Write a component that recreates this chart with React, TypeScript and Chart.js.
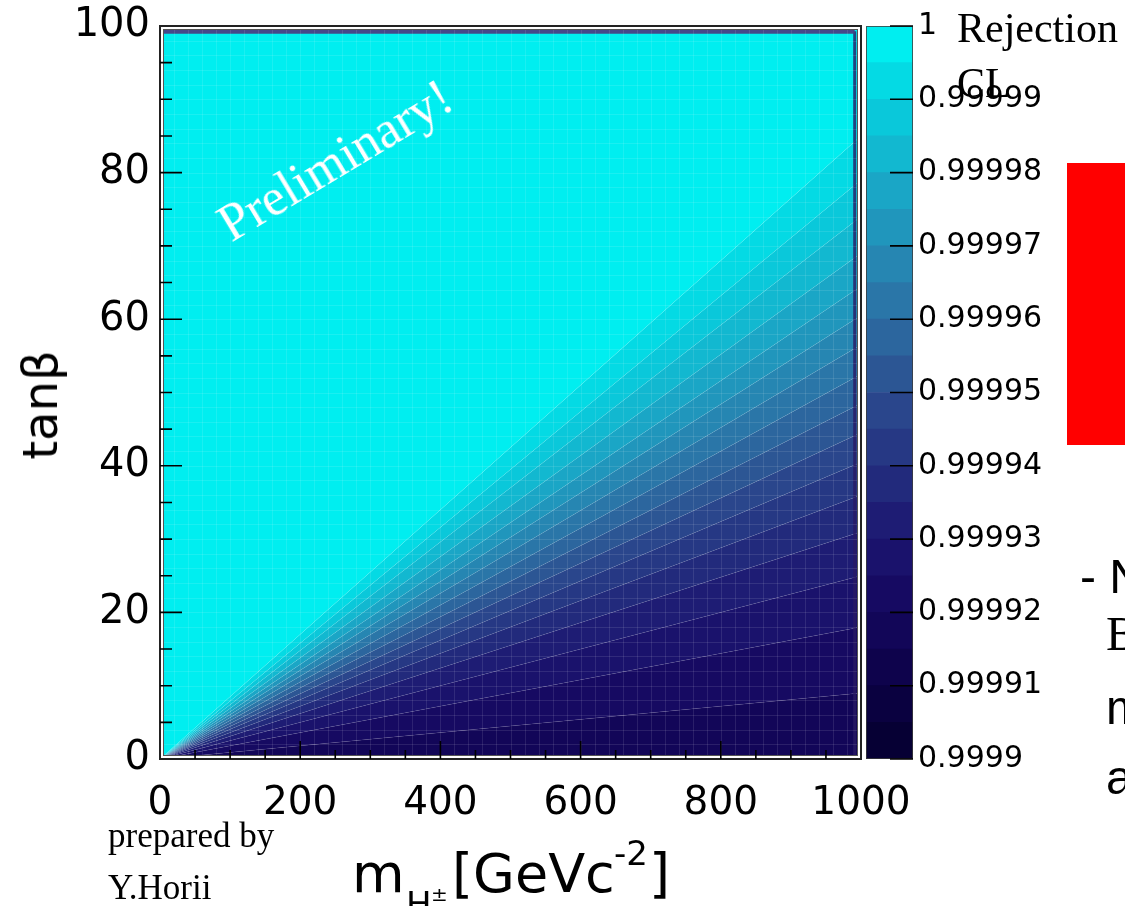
import React, { useEffect, useRef } from "react";
import { Chart, registerables } from "chart.js";

Chart.register(...registerables);

// ---------------- data ----------------
const massLimits = [0, 1000];
const tanBetaLimits = [0, 100];
const massTickStep = 200;
const massMinorStep = 50;
const tanBetaTickStep = 20;
const tanBetaMinorStep = 5;
const massBinWidth = 20;
const tanBetaBinWidth = 2;

// contour lines start at the origin; tanβ each one reaches at m_H± = 1000 (top → bottom)
const contourEndTanBeta = [85, 79, 74, 69, 64.5, 60.5, 56.5, 52.5, 48.5, 44.5, 40.5, 36, 31, 25, 18, 9];
// palette level of each region between contours (top → bottom)
const regionLevels = [19, 18, 17, 16, 15, 14, 13, 12, 11, 10, 9, 8, 7, 6, 5, 4, 3];

// palette from 0.9999 (index 0) to 1 (index 19)
const paletteColors = [
  "rgb(6,0,52)", "rgb(10,1,64)", "rgb(14,3,76)", "rgb(18,6,88)", "rgb(22,10,98)",
  "rgb(26,18,108)", "rgb(30,28,116)", "rgb(34,42,124)", "rgb(38,56,132)", "rgb(42,70,140)",
  "rgb(44,86,148)", "rgb(44,102,158)", "rgb(42,118,168)", "rgb(38,134,178)", "rgb(32,150,188)",
  "rgb(26,166,198)", "rgb(18,184,208)", "rgb(10,200,218)", "rgb(4,218,228)", "rgb(0,238,240)",
];

// colour bar, in units of (CL − 0.9999) × 10^5
const colorbarEdges = [0, 0.5, 1, 1.5, 2, 2.5, 3, 3.5, 4, 4.5, 5, 5.5, 6, 6.5, 7, 7.5, 8, 8.5, 9, 9.5, 10];
const colorbarTickValues = [0, 1, 2, 3, 4, 5, 6, 7, 8, 9, 10];
const colorbarTickLabels = [
  "0.9999", "0.99991", "0.99992", "0.99993", "0.99994", "0.99995",
  "0.99996", "0.99997", "0.99998", "0.99999", "1",
];

// edge artefacts of the scan
const topEdgeTanBeta = 99.3;
const rightEdgeMass = 991;

// ---------------- plugins ----------------
const mainDecor = {
  id: "mainDecor",
  afterDatasetsDraw(chart: any) {
    const { ctx, chartArea: a, scales } = chart;
    const x = scales.x;
    const y = scales.y;
    ctx.save();
    // faint histogram bin grid
    ctx.strokeStyle = "rgba(255,255,255,0.10)";
    ctx.lineWidth = 1;
    ctx.beginPath();
    for (let m = massLimits[0] + massBinWidth; m < massLimits[1]; m += massBinWidth) {
      const px = Math.round(x.getPixelForValue(m)) + 0.5;
      ctx.moveTo(px, a.top);
      ctx.lineTo(px, a.bottom);
    }
    for (let t = tanBetaLimits[0] + tanBetaBinWidth; t < tanBetaLimits[1]; t += tanBetaBinWidth) {
      const py = Math.round(y.getPixelForValue(t)) + 0.5;
      ctx.moveTo(a.left, py);
      ctx.lineTo(a.right, py);
    }
    ctx.stroke();

    // frame (double line)
    const w = a.right - a.left;
    const h = a.bottom - a.top;
    ctx.strokeStyle = "#ffffff";
    ctx.lineWidth = 2;
    ctx.strokeRect(a.left + 2, a.top + 2, w - 4, h - 4);
    ctx.strokeStyle = "#222";
    ctx.lineWidth = 2;
    ctx.strokeRect(a.left, a.top, w, h);
    ctx.strokeStyle = "#555";
    ctx.lineWidth = 1;
    ctx.strokeRect(a.left + 3.5, a.top + 3.5, w - 7, h - 7);

    // inward tick marks
    ctx.strokeStyle = "#000";
    ctx.lineWidth = 1.6;
    ctx.beginPath();
    for (let m = massLimits[0] + massMinorStep; m < massLimits[1]; m += massMinorStep) {
      const major = m % massTickStep === 0;
      const px = x.getPixelForValue(m);
      ctx.moveTo(px, a.bottom);
      ctx.lineTo(px, a.bottom - (major ? 18 : 9));
    }
    for (let t = tanBetaLimits[0] + tanBetaMinorStep; t < tanBetaLimits[1]; t += tanBetaMinorStep) {
      const major = t % tanBetaTickStep === 0;
      const py = y.getPixelForValue(t);
      ctx.moveTo(a.left, py);
      ctx.lineTo(a.left + (major ? 22 : 12), py);
    }
    ctx.stroke();
    ctx.restore();
  },
};

const colorbarDecor = {
  id: "colorbarDecor",
  afterDatasetsDraw(chart: any) {
    const { ctx, chartArea: a, scales } = chart;
    const y = scales.y;
    ctx.save();
    ctx.strokeStyle = "rgba(60,60,60,0.8)";
    ctx.lineWidth = 1;
    ctx.strokeRect(a.left + 0.5, a.top + 0.5, a.right - a.left - 1, a.bottom - a.top - 1);
    ctx.strokeStyle = "#000";
    ctx.lineWidth = 1.6;
    ctx.beginPath();
    colorbarTickValues.forEach((v) => {
      const py = y.getPixelForValue(v);
      ctx.moveTo(a.right, py);
      ctx.lineTo(a.right - 23, py);
    });
    ctx.stroke();
    ctx.restore();
  },
};

// ---------------- component ----------------
const W = 1125;
const H = 906;
const sans = '"DejaVu Sans", sans-serif';
const serif = '"Liberation Serif", "Times New Roman", serif';

export default function App() {
  const mainRef = useRef<HTMLCanvasElement>(null);
  const barRef = useRef<HTMLCanvasElement>(null);

  useEffect(() => {
    const noLine = { pointRadius: 0, borderWidth: 1, borderColor: "rgba(255,255,255,0.07)", tension: 0, order: 5 };
    const datasets: any[] = [];
    datasets.push({
      ...noLine,
      borderColor: "rgba(0,0,0,0)",
      data: [
        { x: massLimits[0], y: tanBetaLimits[1] },
        { x: massLimits[1], y: tanBetaLimits[1] },
      ],
      fill: false,
    });
    contourEndTanBeta.forEach((t, i) => {
      datasets.push({
        ...noLine,
        data: [
          { x: massLimits[0], y: tanBetaLimits[0] },
          { x: massLimits[1], y: t },
        ],
        fill: "-1",
        backgroundColor: paletteColors[regionLevels[i]],
      });
    });
    datasets.push({
      ...noLine,
      borderColor: "rgba(0,0,0,0)",
      data: [
        { x: massLimits[0], y: tanBetaLimits[0] },
        { x: massLimits[1], y: tanBetaLimits[0] },
      ],
      fill: "-1",
      backgroundColor: paletteColors[regionLevels[regionLevels.length - 1]],
    });
    // edge strips, drawn on top of the filled regions
    datasets.push({
      order: 0,
      pointRadius: 0,
      borderWidth: 5,
      borderColor: "rgba(72,62,132,0.95)",
      data: [
        { x: massLimits[0], y: topEdgeTanBeta },
        { x: rightEdgeMass, y: topEdgeTanBeta },
      ],
      fill: false,
    });
    datasets.push({
      order: 0,
      pointRadius: 0,
      borderWidth: 3,
      borderColor: "rgba(40,25,100,0.8)",
      data: [
        { x: rightEdgeMass, y: tanBetaLimits[0] },
        { x: rightEdgeMass, y: topEdgeTanBeta },
      ],
      fill: false,
    });

    const main = new Chart(mainRef.current!, {
      type: "line",
      data: { datasets },
      options: {
        animation: false,
        responsive: false,
        events: [],
        layout: { padding: { left: 0, right: W - 861, top: 26, bottom: 0 } },
        plugins: { legend: { display: false }, tooltip: { enabled: false } },
        scales: {
          x: {
            type: "linear",
            min: massLimits[0],
            max: massLimits[1],
            grid: { display: false, drawTicks: false },
            border: { display: false },
            ticks: {
              stepSize: massTickStep,
              autoSkip: false,
              maxRotation: 0,
              padding: 21,
              color: "#000",
              font: { family: "DejaVu Sans", size: 39 },
              callback: (v: any) => String(v),
            },
            afterFit: (s: any) => {
              s.height = H - 759;
            },
          },
          y: {
            type: "linear",
            min: tanBetaLimits[0],
            max: tanBetaLimits[1],
            grid: { display: false, drawTicks: false },
            border: { display: false },
            ticks: {
              stepSize: tanBetaTickStep,
              autoSkip: false,
              padding: 10,
              color: "#000",
              font: { family: "DejaVu Sans", size: 40, lineHeight: 0.5 },
              callback: (v: any) => String(v),
            },
            afterFit: (s: any) => {
              s.width = 160;
            },
          },
        },
      } as any,
      plugins: [mainDecor],
    });

    const barDatasets = paletteColors.map((c, i) => ({
      data: [[colorbarEdges[i], colorbarEdges[i + 1]]],
      backgroundColor: c,
      borderWidth: 0,
      grouped: false,
      barPercentage: 1,
      categoryPercentage: 1,
    }));

    const bar = new Chart(barRef.current!, {
      type: "bar",
      data: { labels: [""], datasets: barDatasets as any },
      options: {
        animation: false,
        responsive: false,
        events: [],
        layout: { padding: { left: 866, right: 0, top: 26, bottom: H - 759 } },
        plugins: { legend: { display: false }, tooltip: { enabled: false } },
        scales: {
          x: { type: "category", display: false },
          y: {
            type: "linear",
            position: "right",
            min: colorbarEdges[0],
            max: colorbarEdges[colorbarEdges.length - 1],
            grid: { display: false, drawTicks: false },
            border: { display: false },
            ticks: {
              stepSize: 1,
              autoSkip: false,
              padding: 5,
              color: "#000",
              font: { family: "DejaVu Sans", size: 30, lineHeight: 0.5 },
              callback: (v: any) => {
                const i = colorbarTickValues.indexOf(Number(v));
                return i >= 0 ? colorbarTickLabels[i] : "";
              },
            },
            afterFit: (s: any) => {
              s.width = W - 913;
            },
          },
        },
      } as any,
      plugins: [colorbarDecor],
    });

    return () => {
      main.destroy();
      bar.destroy();
    };
  }, []);

  const abs = (o: React.CSSProperties): React.CSSProperties => ({
    position: "absolute",
    margin: 0,
    lineHeight: 1,
    whiteSpace: "nowrap",
    ...o,
  });

  return (
    <div style={{ position: "absolute", left: 0, top: 0, width: W, height: H, overflow: "hidden", background: "#fff" }}>
      <canvas ref={mainRef} width={W} height={H} style={{ position: "absolute", left: 0, top: 0 }} />
      <canvas ref={barRef} width={W} height={H} style={{ position: "absolute", left: 0, top: 0 }} />

      {/* axis titles */}
      <div
        style={abs({
          left: 40,
          top: 405,
          transform: "translate(-50%,-50%) rotate(-90deg)",
          font: `48px ${sans}`,
          color: "#000",
        })}
      >
        tanβ
      </div>
      <div style={abs({ left: 352, top: 842, font: `54px ${sans}`, color: "#000" })}>m</div>
      <div style={abs({ left: 406, top: 884, font: `34px ${sans}`, color: "#000" })}>H</div>
      <div style={abs({ left: 431, top: 882, font: `20px ${sans}`, color: "#000" })}>±</div>
      <div style={abs({ left: 452, top: 842, font: `54px ${sans}`, color: "#000" })}>[GeVc</div>
      <div style={abs({ left: 614, top: 833, font: `34px ${sans}`, color: "#000" })}>-2</div>
      <div style={abs({ left: 649, top: 842, font: `54px ${sans}`, color: "#000" })}>]</div>

      {/* Preliminary stamp */}
      <div
        style={abs({
          left: 335,
          top: 160,
          transform: "translate(-50%,-50%) rotate(-31deg)",
          font: `52px ${serif}`,
          color: "#fff",
        })}
      >
        Preliminary!
      </div>

      {/* colour bar title */}
      <div style={abs({ left: 957, top: 4, font: `42px ${serif}`, color: "#000" })}>Rejection</div>
      <div style={abs({ left: 957, top: 59, font: `42px ${serif}`, color: "#000" })}>CL</div>

      {/* credits */}
      <div style={abs({ left: 108, top: 816, font: `35px ${serif}`, color: "#000" })}>prepared by</div>
      <div style={abs({ left: 108, top: 868, font: `35px ${serif}`, color: "#000" })}>Y.Horii</div>

      {/* slide fragments on the right */}
      <div style={abs({ left: 1067, top: 163, width: 70, height: 282, background: "#ff0000" })} />
      <div style={abs({ left: 1080, top: 549, font: `48px "Liberation Sans", sans-serif`, color: "#000" })}>- N</div>
      <div style={abs({ left: 1106, top: 606, font: `48px ${serif}`, color: "#000" })}>B</div>
      <div style={abs({ left: 1106, top: 680, font: `48px "Liberation Sans", sans-serif`, color: "#000" })}>m</div>
      <div style={abs({ left: 1106, top: 750, font: `48px "Liberation Sans", sans-serif`, color: "#000" })}>a</div>
    </div>
  );
}
